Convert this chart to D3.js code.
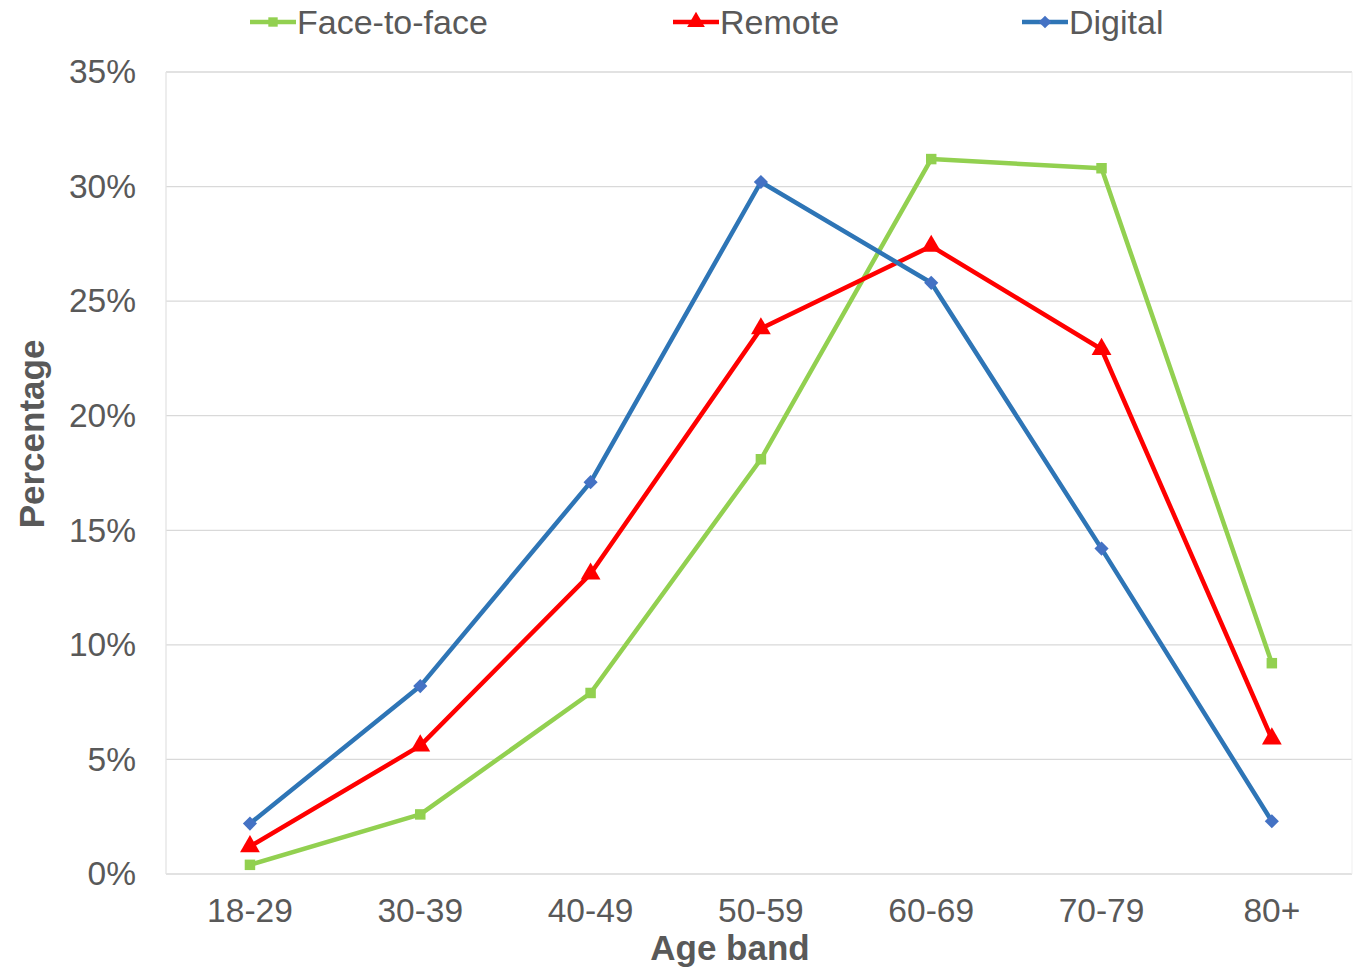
<!DOCTYPE html>
<html>
<head>
<meta charset="utf-8">
<script src="https://cdn.jsdelivr.net/npm/d3@7"></script>
<style>
  html, body { margin: 0; padding: 0; background: #fff; }
  svg { display: block; font-family: "Liberation Sans", Arial, sans-serif; }
</style>
</head>
<body>
<svg id="chart" width="1353" height="967"></svg>
<script>
// Share of each group by age band (%)
const ageBands = ["18-29", "30-39", "40-49", "50-59", "60-69", "70-79", "80+"];
const faceToFace = [0.4, 2.6, 7.9, 18.1, 31.2, 30.8, 9.2];
const remote = [1.2, 5.6, 13.1, 23.8, 27.4, 22.9, 5.9];
const digital = [2.2, 8.2, 17.1, 30.2, 25.8, 14.2, 2.3];
const yTicks = [0, 5, 10, 15, 20, 25, 30, 35];

const series = [
  { name: "Face-to-face", values: faceToFace, line: "#92D050", fill: "#92D050", symbol: d3.symbolSquare, size: 110, rot: 0 },
  { name: "Remote", values: remote, line: "#FF0000", fill: "#FF0000", symbol: d3.symbolTriangle, size: 170, rot: 0 },
  { name: "Digital", values: digital, line: "#2E75B6", fill: "#4472C4", symbol: d3.symbolSquare, size: 100, rot: 45 }
];

const svg = d3.select("#chart");
const plot = { left: 166, right: 1352, top: 72, bottom: 874 };

const x = d3.scaleBand().domain(ageBands).range([164.8, 1357]);
const xc = d => x(d) + x.bandwidth() / 2;
const y = d3.scaleLinear().domain([0, 35]).range([plot.bottom, plot.top]);

// Horizontal gridlines
svg.append("g")
  .selectAll("line")
  .data(yTicks)
  .join("line")
  .attr("x1", plot.left).attr("x2", plot.right)
  .attr("y1", d => y(d)).attr("y2", d => y(d))
  .attr("stroke", "#D9D9D9").attr("stroke-width", 1.3);

// Left and right edges of the plot area
svg.append("line")
  .attr("x1", plot.left).attr("x2", plot.left)
  .attr("y1", plot.top).attr("y2", plot.bottom)
  .attr("stroke", "#E3E3E3").attr("stroke-width", 1.3);
svg.append("line")
  .attr("x1", plot.right).attr("x2", plot.right)
  .attr("y1", plot.top).attr("y2", plot.bottom)
  .attr("stroke", "#EFEFEF").attr("stroke-width", 1);

// Y axis labels
const yAxis = d3.axisLeft(y).tickValues(yTicks).tickFormat(d => d + "%").tickSize(0).tickPadding(0);
const gy = svg.append("g").attr("transform", `translate(136,0)`).call(yAxis);
gy.select(".domain").remove();
gy.selectAll("text")
  .attr("font-size", 33.5).attr("fill", "#595959")
  .attr("font-family", "Liberation Sans, Arial, sans-serif");

// X axis labels
const xAxis = d3.axisBottom(x).tickSize(0).tickPadding(0);
const gx = svg.append("g").attr("transform", `translate(0,${plot.bottom + 24})`).call(xAxis);
gx.select(".domain").remove();
gx.selectAll("text")
  .attr("font-size", 33.5).attr("fill", "#595959")
  .attr("font-family", "Liberation Sans, Arial, sans-serif");

// Axis titles
svg.append("text")
  .attr("x", 730).attr("y", 960)
  .attr("text-anchor", "middle")
  .attr("font-size", 35).attr("font-weight", "bold").attr("fill", "#595959")
  .text("Age band");
svg.append("text")
  .attr("transform", "translate(44,434) rotate(-90)")
  .attr("text-anchor", "middle")
  .attr("font-size", 35).attr("font-weight", "bold").attr("fill", "#595959")
  .text("Percentage");

// Lines and markers
const line = d3.line().x((d, i) => xc(ageBands[i])).y(d => y(d));
series.forEach(s => {
  svg.append("path")
    .datum(s.values)
    .attr("d", line)
    .attr("fill", "none")
    .attr("stroke", s.line)
    .attr("stroke-width", 4.5)
    .attr("stroke-linejoin", "round");
  svg.append("g")
    .selectAll("path")
    .data(s.values)
    .join("path")
    .attr("transform", (d, i) => `translate(${xc(ageBands[i])},${y(d)}) rotate(${s.rot})`)
    .attr("d", d3.symbol().type(s.symbol).size(s.size))
    .attr("fill", s.fill);
});

// Legend
const legendX = [250, 673, 1022];
series.forEach((s, i) => {
  const g = svg.append("g").attr("transform", `translate(${legendX[i]},22)`);
  g.append("line").attr("x1", 0).attr("x2", 46).attr("y1", 0).attr("y2", 0)
    .attr("stroke", s.line).attr("stroke-width", 4.5);
  g.append("path").attr("transform", `translate(23,0) rotate(${s.rot})`)
    .attr("d", d3.symbol().type(s.symbol).size(s.size * 0.8))
    .attr("fill", s.fill);
  g.append("text").attr("x", 47).attr("y", 12)
    .attr("font-size", 34).attr("fill", "#595959")
    .text(s.name);
});
</script>
</body>
</html>
